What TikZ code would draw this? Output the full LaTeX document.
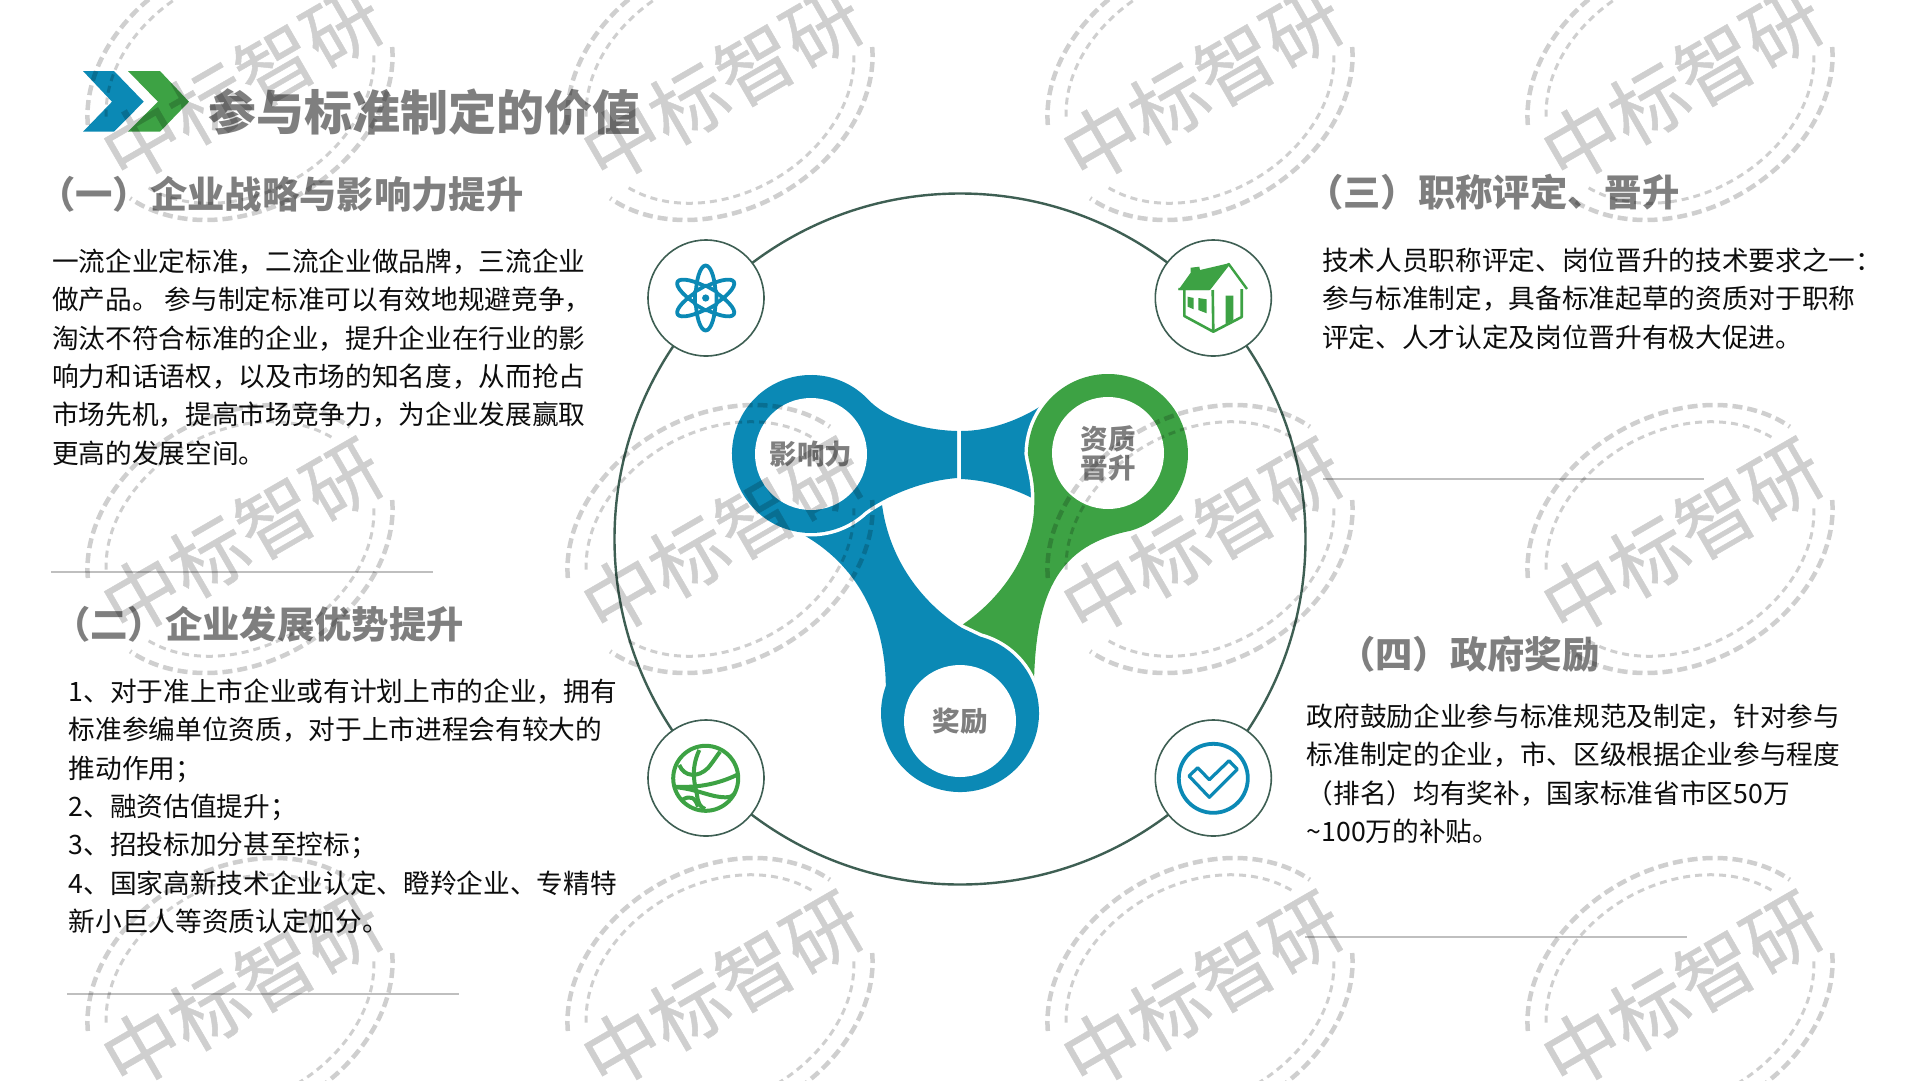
\documentclass[tikz,border=0pt]{standalone}
\usepackage{fontspec}
\setmainfont{Noto Sans CJK SC}
\newfontfamily\markfont[FakeBold=.6]{Noto Sans CJK SC}
\definecolor{hubblue}{HTML}{0B89B5}
\definecolor{hubgreen}{HTML}{3DA244}
\definecolor{ringline}{HTML}{3E5F53}
\definecolor{headgray}{HTML}{7F7F7F}
\definecolor{rulegray}{HTML}{BFBFBF}
\begin{document}
\begin{tikzpicture}[line cap=butt,line join=round,x=1pt,y=-1pt,
  pagetitle/.style={anchor=west,inner sep=0,text=headgray,font=\fontsize{48}{48}\selectfont\bfseries},
  heading/.style={anchor=west,inner sep=0,text=headgray,font=\fontsize{37.33}{40}\selectfont\bfseries},
  bodytext/.style={anchor=north west,inner sep=0,align=left,text=black!95,font=\fontsize{26.67}{38.4}\selectfont},
  hublabel/.style={circle,fill=white,inner sep=0,minimum size=112pt,align=center,text=headgray,font=\fontsize{27.5}{29}\selectfont\bfseries},
  iconring/.style={draw=ringline,line width=1.6pt,fill=white},
  blueicon/.style={draw=hubblue,line width=3.8pt},
  greenicon/.style={draw=hubgreen,line width=4pt},
  halo/.style={preaction={draw=white,line width=7pt}},
  separator/.style={draw=rulegray,line width=1.5pt},
  markring/.style={draw=black,opacity=.19},
  marktext/.style={text=black,rotate=30,inner sep=0,font=\fontsize{77}{77}\markfont}]
\useasboundingbox (0,0) rectangle (1920,1080);
\clip (0,0) rectangle (1920,1080);
\fill[white] (0,0) rectangle (1920,1080);

\fill[hubblue] (83,71)-- (114,71)-- (143.7,101.7)-- (114,131.7)-- (83,131.7)-- (112,101.7)-- cycle;
\fill[hubgreen] (128,71)-- (160,71)-- (189,101.7)-- (160,131.7)-- (128,131.7)-- (158,101.7)-- cycle;
\node[pagetitle] (title) at (208,112) {参与标准制定的价值};

\node[heading] (headone) at (38,194.5) {（一）企业战略与影响力提升};
\node[bodytext] (bodyone) at (52,248.5) {一流企业定标准，二流企业做品牌，三流企业\\做产品。 参与制定标准可以有效地规避竞争，\\淘汰不符合标准的企业，提升企业在行业的影\\响力和话语权，以及市场的知名度，从而抢占\\市场先机，提高市场竞争力，为企业发展赢取\\更高的发展空间。};
\draw[separator] (51,572)-- (433,572);

\node[heading] (headtwo) at (53,624.5) {（二）企业发展优势提升};
\node[bodytext] (bodytwo) at (68.5,678.5) {1、对于准上市企业或有计划上市的企业，拥有\\标准参编单位资质，对于上市进程会有较大的\\推动作用；\\2、融资估值提升；\\3、招投标加分甚至控标；\\4、国家高新技术企业认定、瞪羚企业、专精特\\新小巨人等资质认定加分。};
\draw[separator] (67,994)-- (459,994);

\node[heading] (headthree) at (1306,192) {（三）职称评定、晋升};
\node[bodytext] (bodythree) at (1322,247.5) {技术人员职称评定、岗位晋升的技术要求之一：\\参与标准制定，具备标准起草的资质对于职称\\评定、人才认定及岗位晋升有极大促进。};
\draw[separator] (1323,479)-- (1704,479);

\node[heading] (headfour) at (1338,654) {（四）政府奖励};
\node[bodytext] (bodyfour) at (1306.5,703.5) {政府鼓励企业参与标准规范及制定，针对参与\\标准制定的企业，市、区级根据企业参与程度\\（排名）均有奖补，国家标准省市区50万\\\textasciitilde100万的补贴。};
\draw[separator] (1305,937)-- (1687,937);

\draw[ringline,line width=2.4pt] (960,539) circle (345.5);
\filldraw[iconring] (706,298) circle (58);
\filldraw[iconring] (1213.3,298) circle (58);
\filldraw[iconring] (706,778) circle (58);
\filldraw[iconring] (1213.3,778) circle (58);

\fill[hubblue] (961,431) .. controls (990,431) and (1020,420) .. (1044,404)-- (1060,404)-- (1060,498)-- (1032,498) .. controls (1010,487) and (985,480) .. (961,479)-- cycle;
\fill[hubgreen,halo] (1130,530.9) arc[start angle=74,end angle=-180,radius=80] .. controls (1030,470) and (1036,480) .. (1034,510) .. controls (1032,550) and (1006,595) .. (962,625)-- (1000,660)-- (1034,682) .. controls (1036,590) and (1060,545) .. (1130,530.9)-- cycle;
\fill[hubblue,halo] (885.8,686) arc[start angle=200,end angle=-75,radius=79]-- (962,628) .. controls (925,605) and (886,560) .. (881,495)-- (860,500)-- (800,533) .. controls (850,560) and (885,610) .. (885.8,686)-- cycle;
\fill[hubblue,halo] (867.8,399.1) arc[start angle=-44,end angle=-313,radius=79] .. controls (885,497) and (920,481) .. (957,478)-- (957,431) .. controls (920,430) and (885,418) .. (867.8,399.1)-- cycle;

\node[hublabel] (influence) at (811,454) {\raisebox{1.5pt}{影响力}};
\node[hublabel] (promotion) at (1108,453) {资质\\晋升};
\node[hublabel] (reward) at (960,721) {\raisebox{2.5pt}{奖励}};

\draw[blueicon] (705.7,298) ellipse [x radius=10,y radius=32.5];
\draw[blueicon,rotate around={60:(705.7,298)}] (705.7,298) ellipse [x radius=10,y radius=32.5];
\draw[blueicon,rotate around={-60:(705.7,298)}] (705.7,298) ellipse [x radius=10,y radius=32.5];
\filldraw[blueicon,fill=white] (705.7,285.5)-- (716.5,291.7)-- (716.5,304.3)-- (705.7,310.5)-- (694.9,304.3)-- (694.9,291.7)-- cycle;
\fill[hubblue] (705.7,298) circle (3.6);

\fill[hubgreen] (1178.3,290)-- (1190.7,272.7)-- (1190.7,267.7)-- (1199.3,266.7)-- (1200,270)-- (1228.7,263.3)-- (1209.3,290)-- cycle;
\draw[greenicon,line width=2.4pt] (1178.3,289)-- (1209.3,289)-- (1228.7,264)-- (1247,289);
\draw[greenicon,line width=2.6pt] (1184.3,290)-- (1184.3,316)-- (1213.3,331.7)-- (1241.7,317)-- (1241.7,289);
\draw[greenicon,line width=2.6pt] (1212.7,290)-- (1213.3,331.7);
\fill[hubgreen] (1187.7,296.7)-- (1193.7,298)-- (1193.7,309.3)-- (1187.7,306.7)-- cycle;
\fill[hubgreen] (1198.3,298)-- (1206.7,299.3)-- (1206.7,313.3)-- (1198.3,310)-- cycle;
\fill[hubgreen] (1225.7,295.7)-- (1233.3,295.7)-- (1233.3,320)-- (1225.7,324.3)-- cycle;

\draw[greenicon] (705.7,778.3) circle (32.5);
\draw[greenicon] (679.3,765) .. controls (684,777) and (698,778) .. (708,768) .. controls (713,762) and (716,757) .. (720,751.7);
\draw[greenicon] (699.3,750) .. controls (690,770) and (695,785) .. (697,795) .. controls (698,803) and (700,807) .. (705,809);
\draw[greenicon] (675,786.7) .. controls (700,788) and (720,783) .. (736.7,775);
\draw[greenicon] (677,787.3) .. controls (700,790) and (710,797) .. (725,797.3) .. controls (730,797.5) and (733,796) .. (735,793.3);
\draw[greenicon] (682,800) .. controls (690,795) and (695,797) .. (698,806.7);

\draw[blueicon] (1213.3,778.3) circle (34.5);
\draw[blueicon,line width=3.2pt] (1189,776)-- (1197.7,767.7)-- (1209.3,779.7)-- (1229,760.7)-- (1237.3,769.3)-- (1209.3,797.3)-- cycle;

\foreach \px in {240,720,1200,1680}
  \foreach \py in {86,539,992}
  {
    \begin{scope}[shift={(\px,\py)},rotate=30]
    \draw[markring,line width=4.5pt,dash pattern=on 10pt off 5pt] (20:161 and 123.7) arc[start angle=20,end angle=160,x radius=161,y radius=123.7];
    \draw[markring,line width=4.5pt,dash pattern=on 10pt off 5pt] (200:161 and 123.7) arc[start angle=200,end angle=340,x radius=161,y radius=123.7];
    \draw[markring,line width=3pt,dash pattern=on 7pt off 5pt] (22:141.5 and 108) arc[start angle=22,end angle=158,x radius=141.5,y radius=108];
    \draw[markring,line width=3pt,dash pattern=on 7pt off 5pt] (202:141.5 and 108) arc[start angle=202,end angle=338,x radius=141.5,y radius=108];
    \end{scope}
    \begin{scope}[transparency group,opacity=.19]
    \node[marktext] (mark\px-\py) at (\px+2,\py-2) {中标智研};
    \end{scope}
  }
\end{tikzpicture}
\end{document}
